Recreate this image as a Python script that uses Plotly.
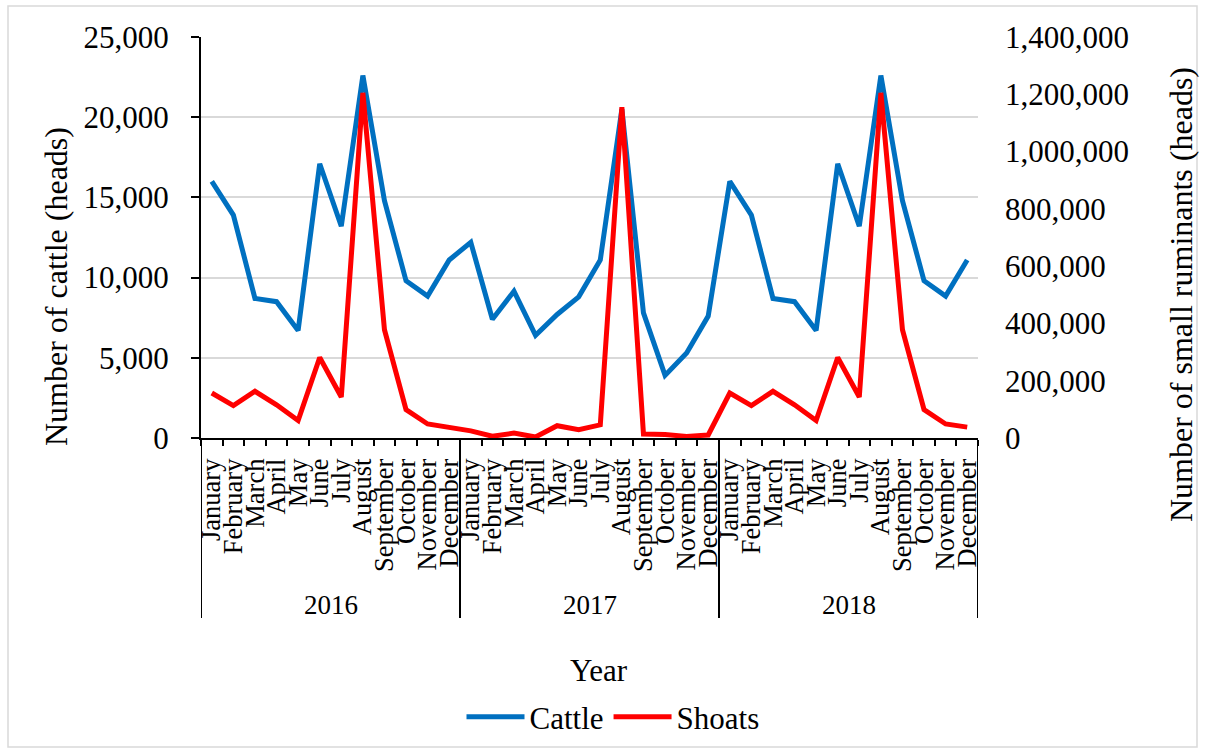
import plotly.graph_objects as go

# Monthly livestock counts, 2016-2018
years = ["2016", "2017", "2018"]
months = ["January", "February", "March", "April", "May", "June", "July",
          "August", "September", "October", "November", "December"]

cattle_2016 = [16000, 13900, 8700, 8500, 6700, 17100, 13200, 22600, 14800, 9800, 8850, 11100]
cattle_2017 = [12200, 7400, 9150, 6400, 7700, 8800, 11100, 20500, 7800, 3900, 5300, 7600]
cattle_2018 = [16000, 13900, 8700, 8500, 6700, 17100, 13200, 22600, 14800, 9800, 8850, 11100]

shoats_2016 = [157000, 113000, 163000, 116000, 61000, 281000, 143000, 1205000, 378000, 99000, 49000, 38000]
shoats_2017 = [25000, 6000, 17000, 3500, 43000, 29000, 46000, 1155000, 14000, 12000, 5600, 10500]
shoats_2018 = [157000, 113000, 163000, 116000, 61000, 281000, 143000, 1205000, 378000, 99000, 49000, 38000]

cattle = cattle_2016 + cattle_2017 + cattle_2018
shoats = shoats_2016 + shoats_2017 + shoats_2018
month_labels = months * len(years)
slots = list(range(len(month_labels)))  # one slot per month along the x axis
n_per_year = len(months)

FONT = "Liberation Serif"
W, H = 1205, 754
L, R, T, B = 201, 978, 37, 438  # plot area in pixels


def px_x(x):
    return (x - L) / (R - L)


def px_y(y):
    return (B - y) / (B - T)


def serif(size):
    return dict(family=FONT, size=size, color="black")


fig = go.Figure()
fig.add_trace(go.Scatter(
    x=slots, y=cattle, name="Cattle", mode="lines",
    line=dict(color="#0070C0", width=5), yaxis="y"))
fig.add_trace(go.Scatter(
    x=slots, y=shoats, name="Shoats", mode="lines",
    line=dict(color="#FF0000", width=5), yaxis="y2"))

annotations = [
    dict(text="Number of cattle (heads)", textangle=-90, showarrow=False,
         xref="paper", yref="paper", x=px_x(56), y=px_y(287),
         xanchor="center", yanchor="middle", font=serif(32)),
    dict(text="Number of small ruminants (heads)", textangle=-90, showarrow=False,
         xref="paper", yref="paper", x=px_x(1181), y=px_y(295),
         xanchor="center", yanchor="middle", font=serif(32)),
    dict(text="Year", showarrow=False, xref="paper", yref="paper",
         x=px_x(599), y=px_y(670), xanchor="center", yanchor="middle",
         font=serif(31)),
]
# year group labels under the month labels
for i, yr in enumerate(years):
    annotations.append(dict(
        text=yr, showarrow=False, xref="x", yref="paper",
        x=i * n_per_year + (n_per_year - 1) / 2, y=px_y(605),
        xanchor="center", yanchor="middle", font=serif(27)))

shapes = [
    dict(type="rect", xref="paper", yref="paper",
         x0=px_x(8), x1=px_x(1197), y0=px_y(747), y1=px_y(6),
         line=dict(color="#d9d9d9", width=1.5), layer="below"),
]
# dividers between the year groups
for i in range(len(years) + 1):
    shapes.append(dict(
        type="line", xref="x", yref="paper",
        x0=i * n_per_year - 0.5, x1=i * n_per_year - 0.5,
        y0=0, y1=px_y(618), line=dict(color="black", width=2)))

fig.update_layout(
    width=W, height=H,
    margin=dict(l=L, r=W - R, t=T, b=H - B, autoexpand=False),
    paper_bgcolor="white", plot_bgcolor="white",
    font=serif(31),
    xaxis=dict(
        range=[-0.5, len(slots) - 0.5],
        tickmode="array", tickvals=slots, ticktext=month_labels,
        tickangle=-90, tickfont=serif(26.5), ticks="", ticklabelstandoff=8,
        minor=dict(ticks="outside", tickmode="linear", tick0=0.5, dtick=1,
                   ticklen=6, tickwidth=2, tickcolor="black", showgrid=False),
        showline=True, linecolor="black", linewidth=2, showgrid=False,
        zeroline=False,
    ),
    yaxis=dict(
        range=[0, 25000], dtick=5000, tickformat=",",
        showline=True, linecolor="black", linewidth=2,
        ticks="outside", ticklen=8, tickwidth=2, tickcolor="black",
        showgrid=True, gridcolor="#d9d9d9", gridwidth=2, zeroline=False,
        tickfont=serif(31), ticklabelstandoff=16,
    ),
    yaxis2=dict(
        range=[0, 1400000], dtick=200000, tickformat=",",
        overlaying="y", side="right", showline=False, showgrid=False,
        zeroline=False, ticks="", tickfont=serif(31), ticklabelstandoff=26,
    ),
    showlegend=True,
    legend=dict(orientation="h", x=px_x(613), xanchor="center",
                y=px_y(717), yanchor="middle", font=serif(31),
                itemwidth=58),
    annotations=annotations,
    shapes=shapes,
)

fig.write_html("out.html")
